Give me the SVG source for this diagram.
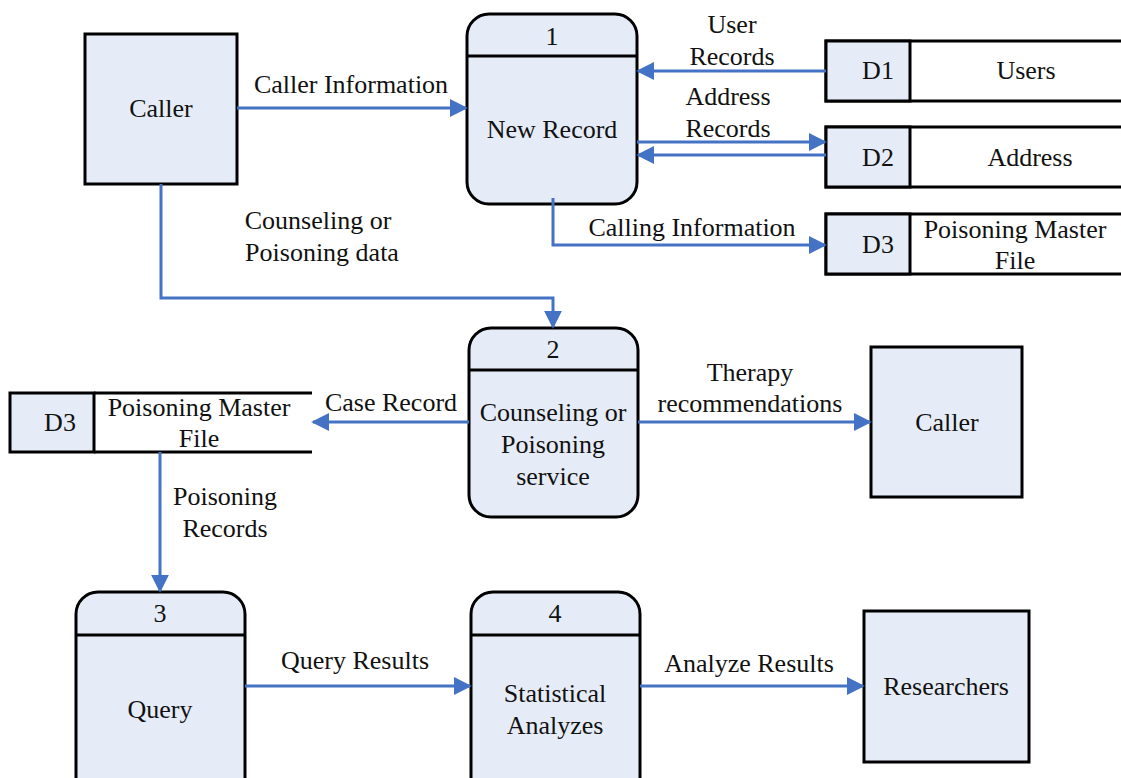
<svg xmlns="http://www.w3.org/2000/svg" width="1121" height="778" viewBox="0 0 1121 778">
  <defs>
    <marker id="arrow" viewBox="0 0 10 10" refX="9" refY="5" markerWidth="6" markerHeight="6" markerUnits="strokeWidth" orient="auto">
      <path d="M0,0 L10,5 L0,10 z" fill="#4472C4"/>
    </marker>
    <style>
      .box { fill: #E6ECF7; stroke: #000; stroke-width: 3; }
      .plain { fill: #fff; stroke: #000; stroke-width: 3; }
      .line { fill: none; stroke: #000; stroke-width: 3; }
      .flow { fill: none; stroke: #4472C4; stroke-width: 3; marker-end: url(#arrow); }
      text { font-family: "Liberation Serif", "Times New Roman", serif; font-size: 26px; fill: #111; text-anchor: middle; }
    </style>
  </defs>
  <rect width="1121" height="778" fill="#fff"/>

  <!-- external entities -->
  <g id="caller-top">
    <rect class="box" x="85" y="34" width="152" height="150"/>
    <text x="161" y="117">Caller</text>
  </g>
  <g id="caller-right">
    <rect class="box" x="871" y="347" width="151" height="150"/>
    <text x="947" y="431">Caller</text>
  </g>
  <g id="researchers">
    <rect class="box" x="864" y="611" width="165" height="151"/>
    <text x="946" y="695">Researchers</text>
  </g>

  <!-- processes -->
  <g id="p1">
    <rect class="box" x="467" y="14" width="170" height="190" rx="22"/>
    <line class="line" x1="467" y1="56" x2="637" y2="56"/>
    <text x="552" y="45">1</text>
    <text x="552" y="138">New Record</text>
  </g>
  <g id="p2">
    <rect class="box" x="469" y="328" width="169" height="189" rx="22"/>
    <line class="line" x1="469" y1="370" x2="638" y2="370"/>
    <text x="553" y="358">2</text>
    <text x="553" y="421">Counseling or</text>
    <text x="553" y="453">Poisoning</text>
    <text x="553" y="485">service</text>
  </g>
  <g id="p3">
    <rect class="box" x="76" y="592" width="169" height="210" rx="22"/>
    <line class="line" x1="76" y1="635" x2="245" y2="635"/>
    <text x="160" y="622">3</text>
    <text x="160" y="718">Query</text>
  </g>
  <g id="p4">
    <rect class="box" x="471" y="592" width="169" height="210" rx="22"/>
    <line class="line" x1="471" y1="635" x2="640" y2="635"/>
    <text x="555" y="622">4</text>
    <text x="555" y="702">Statistical</text>
    <text x="555" y="734">Analyzes</text>
  </g>

  <!-- data stores -->
  <g id="d1">
    <rect class="plain" x="826" y="41" width="310" height="60"/>
    <rect class="box" x="826" y="41" width="84" height="60"/>
    <text x="878" y="79">D1</text>
    <text x="1026" y="79">Users</text>
  </g>
  <g id="d2">
    <rect class="plain" x="826" y="127" width="310" height="60"/>
    <rect class="box" x="826" y="127" width="84" height="60"/>
    <text x="878" y="166">D2</text>
    <text x="1030" y="166">Address</text>
  </g>
  <g id="d3-top">
    <rect class="plain" x="826" y="214" width="310" height="60"/>
    <rect class="box" x="826" y="214" width="84" height="60"/>
    <text x="878" y="253">D3</text>
    <text x="1015" y="238">Poisoning Master</text>
    <text x="1015" y="269">File</text>
  </g>
  <g id="d3-left">
    <rect class="box" x="10" y="393" width="84" height="59"/>
    <line class="line" x1="94" y1="393" x2="312" y2="393"/>
    <line class="line" x1="94" y1="452" x2="312" y2="452"/>
    <text x="60" y="431">D3</text>
    <text x="199" y="416">Poisoning Master</text>
    <text x="199" y="447">File</text>
  </g>

  <!-- data flows -->
  <g id="flows">
    <path class="flow" d="M237,108 H466"/>
    <path class="flow" d="M826,71 H638"/>
    <path class="flow" d="M637,142 H825"/>
    <path class="flow" d="M826,155 H638"/>
    <path class="flow" d="M553,198 V245 H825"/>
    <path class="flow" d="M161,184 V298 H553 V327"/>
    <path class="flow" d="M469,422 H313"/>
    <path class="flow" d="M638,422 H870"/>
    <path class="flow" d="M160,452 V591"/>
    <path class="flow" d="M245,686 H470"/>
    <path class="flow" d="M640,686 H863"/>
  </g>

  <!-- flow labels -->
  <g id="labels">
    <text x="351" y="93">Caller Information</text>
    <text x="732" y="33">User</text>
    <text x="732" y="65">Records</text>
    <text x="728" y="105">Address</text>
    <text x="728" y="137">Records</text>
    <text x="692" y="236">Calling Information</text>
    <text x="318" y="229">Counseling or</text>
    <text x="322" y="261">Poisoning data</text>
    <text x="391" y="411">Case Record</text>
    <text x="750" y="381">Therapy</text>
    <text x="750" y="412">recommendations</text>
    <text x="225" y="505">Poisoning</text>
    <text x="225" y="537">Records</text>
    <text x="355" y="669">Query Results</text>
    <text x="749" y="672">Analyze Results</text>
  </g>
</svg>
